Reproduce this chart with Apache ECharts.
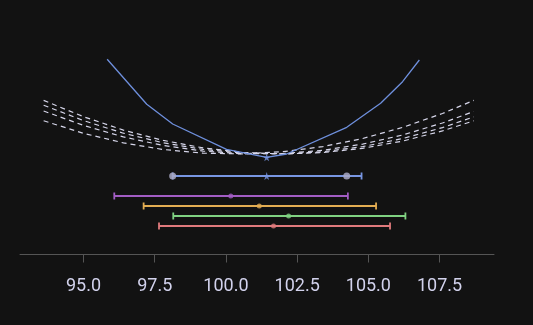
<!DOCTYPE html>
<html>
<head>
<meta charset="utf-8">
<script src="https://cdn.jsdelivr.net/npm/echarts@6/dist/echarts.min.js"></script>
<style>
  html, body { margin: 0; padding: 0; background: #121212; }
  #chart { width: 533px; height: 325px; }
</style>
</head>
<body>
<div id="chart"></div>
<script>
// Tick labels along the parameter axis
const xTicks = [95, 97.5, 100, 102.5, 105, 107.5];

// Combined profile (solid blue curve)
const profileX = [95.83, 97.22, 98.13, 100.02, 101.43, 102.13, 104.24, 105.43, 106.2, 106.79];
const profileY = [9.67, 5.17, 3.2, 0.67, -0.13, 0.2, 2.87, 5.27, 7.43, 9.6];
const bestIndex = 4;

// Individual scans (dashed curves)
const scanX = [93.6, 95, 96.4, 97.8, 99.2, 100.6, 102, 103.4, 104.8, 106.2, 107.6, 108.7];
const scanPurple = [3.52, 2.27, 1.31, 0.65, 0.28, 0.21, 0.43, 0.94, 1.75, 2.86, 4.25, 5.56];
const scanOrange = [4.50, 3.06, 1.91, 1.05, 0.49, 0.22, 0.25, 0.57, 1.19, 2.10, 3.30, 4.45];
const scanGreen  = [5.56, 3.93, 2.59, 1.56, 0.81, 0.36, 0.20, 0.34, 0.77, 1.49, 2.51, 3.52];
const scanRed    = [5.08, 3.54, 2.28, 1.32, 0.66, 0.29, 0.21, 0.42, 0.94, 1.74, 2.84, 3.91];

// Interval rows: combined first, then each measurement
const rowY    = [-2, -4, -5, -6, -7];
const rowLow  = [98.13, 96.08, 97.11, 98.15, 97.65];
const rowMid  = [101.43, 100.17, 101.17, 102.2, 101.67];
const rowHigh = [104.76, 104.28, 105.27, 106.3, 105.76];
const rowColor = ['#7896e2', '#a25dc4', '#e3ad52', '#80d282', '#e07a7c'];

// Profile points marked on the combined interval
const edgeX = [98.13, 104.24];

const STAR = 'path://M50,0 L61,35 L98,35 L68,57 L79,91 L50,70 L21,91 L32,57 L2,35 L39,35 Z';

const pairs = (xs, ys) => xs.map((x, i) => [x, ys[i]]);
const dashStyle = { color: '#d6d6ea', width: 1.2, type: [5, 4] };

const rows = rowY.map((y, i) => [rowLow[i], rowHigh[i], y, i]);

function renderBar(params, api) {
  const lo = api.coord([api.value(0), api.value(2)]);
  const hi = api.coord([api.value(1), api.value(2)]);
  const color = rowColor[api.value(3)];
  const cap = 3.5;
  const style = { stroke: color, lineWidth: 1.8 };
  return {
    type: 'group',
    children: [
      { type: 'line', shape: { x1: lo[0], y1: lo[1], x2: hi[0], y2: hi[1] }, style },
      { type: 'line', shape: { x1: lo[0], y1: lo[1] - cap, x2: lo[0], y2: lo[1] + cap }, style },
      { type: 'line', shape: { x1: hi[0], y1: hi[1] - cap, x2: hi[0], y2: hi[1] + cap }, style }
    ]
  };
}

const chart = echarts.init(document.getElementById('chart'), null, { renderer: 'canvas' });

const series = [
  ...[scanPurple, scanOrange, scanGreen, scanRed].map(ys => ({
    type: 'line',
    data: pairs(scanX, ys),
    symbol: 'none',
    lineStyle: dashStyle,
    silent: true,
    z: 2
  })),
  {
    type: 'line',
    data: pairs(profileX, profileY),
    symbol: 'none',
    lineStyle: { color: '#6e8fdc', width: 1.3 },
    z: 3
  },
  {
    type: 'scatter',
    data: [[profileX[bestIndex], profileY[bestIndex]]],
    symbol: STAR,
    symbolSize: 8,
    itemStyle: { color: '#7896e2' },
    z: 4
  },
  {
    type: 'custom',
    data: rows,
    renderItem: renderBar,
    encode: { x: [0, 1], y: 2 },
    z: 3
  },
  {
    type: 'scatter',
    data: rowY.slice(1).map((y, i) => ({
      value: [rowMid[i + 1], y],
      itemStyle: { color: rowColor[i + 1] }
    })),
    symbol: 'circle',
    symbolSize: 5,
    z: 5
  },
  {
    type: 'scatter',
    data: edgeX.map(x => [x, rowY[0]]),
    symbol: 'circle',
    symbolSize: 7,
    itemStyle: { color: '#a9a9c6', opacity: 0.85 },
    z: 5
  },
  {
    type: 'scatter',
    data: [[rowMid[0], rowY[0]]],
    symbol: STAR,
    symbolSize: 8,
    itemStyle: { color: '#7896e2' },
    z: 6
  }
];

chart.setOption({
  backgroundColor: '#121212',
  animation: false,
  grid: { left: 20, right: 39, top: 56, bottom: 70.5, outerBoundsMode: 'none' },
  xAxis: {
    type: 'value',
    min: 92.77,
    max: 109.41,
    splitLine: { show: false },
    axisLine: { onZero: false, lineStyle: { color: '#555', width: 1 } },
    axisTick: { customValues: xTicks, length: 8, lineStyle: { color: '#555' } },
    axisLabel: {
      customValues: xTicks,
      formatter: v => v.toFixed(1),
      color: '#d2d2ec',
      fontFamily: 'Roboto',
      fontSize: 18,
      margin: 23
    }
  },
  yAxis: {
    type: 'value',
    min: -9.85,
    max: 10,
    show: false,
    splitLine: { show: false }
  },
  series
});
</script>
</body>
</html>
